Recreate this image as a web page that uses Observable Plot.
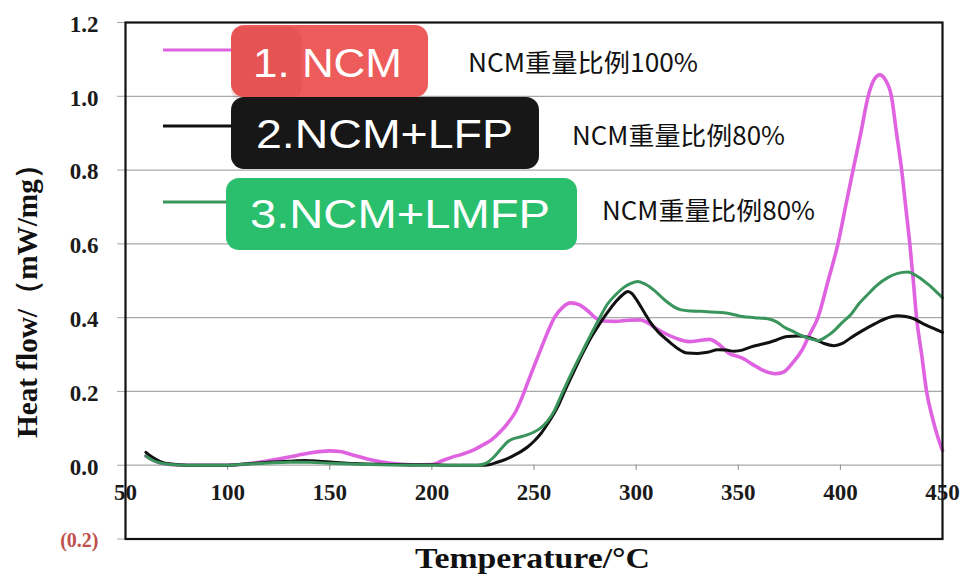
<!DOCTYPE html>
<html><head><meta charset="utf-8">
<script src="https://cdn.jsdelivr.net/npm/d3@7"></script>
<script src="https://cdn.jsdelivr.net/npm/@observablehq/plot@0.6"></script>
<style>
body{margin:0;background:#fff}
#wrap{position:relative;width:976px;height:577px;overflow:hidden}
#overlay{position:absolute;left:0;top:0;pointer-events:none}
</style>
</head><body><div id="wrap"></div>
<script>
// ---- data ----
const xTicks = [50,100,150,200,250,300,350,400,450];
const yTicks = [-0.2,0,0.2,0.4,0.6,0.8,1.0,1.2];

const ncmT = [60,65,70,80,90,100,110,120,130,140,150,155,160,170,180,190,200,205,210,215,220,225,229,233,237,241,244,247,250,253,256.5,260,264,268,272,276,280,284,290,296,302,306,310,315,320,326,331,336,340,345,352,358,363,368,372,377,381,385,389,394,398.8,402.5,406.2,410,413.6,416.5,419.3,422,425,427.5,430,432,434,435.7,437.3,439.8,442.2,445,447.5,450];
const ncmV = [0.025,0.010,0.003,0,0,0,0.004,0.012,0.022,0.033,0.039,0.037,0.030,0.015,0.005,0.001,0.002,0.012,0.022,0.030,0.040,0.055,0.068,0.088,0.113,0.145,0.182,0.225,0.268,0.310,0.358,0.400,0.428,0.440,0.435,0.420,0.400,0.391,0.390,0.393,0.394,0.385,0.370,0.355,0.343,0.335,0.338,0.341,0.330,0.305,0.290,0.270,0.255,0.248,0.252,0.280,0.310,0.355,0.400,0.500,0.600,0.700,0.800,0.900,1.000,1.045,1.058,1.045,1.000,0.900,0.800,0.700,0.600,0.500,0.400,0.300,0.200,0.130,0.080,0.040];

const lfpT = [60,63,67,72,80,90,100,110,120,130,138,145,155,165,180,200,210,220,226,232,237,242,247,250,253.4,257,261.6,265,269.8,274,278,282,286,290,293,296,298,300,302.5,305,307,311,315.5,320,325,330,335,340,344,348,352,356,360,364.5,369,374,379,384,388,392,397,401,405,410,416.8,422,428,432,436,440,445,450];
const lfpV = [0.035,0.022,0.010,0.003,0,0,0,0.004,0.008,0.011,0.013,0.011,0.007,0.004,0.002,0.001,0,0,0,0.008,0.018,0.032,0.050,0.065,0.086,0.115,0.158,0.200,0.257,0.305,0.347,0.382,0.414,0.443,0.460,0.471,0.465,0.450,0.428,0.405,0.387,0.360,0.338,0.318,0.304,0.303,0.306,0.313,0.312,0.309,0.312,0.320,0.326,0.332,0.340,0.349,0.350,0.347,0.340,0.330,0.324,0.330,0.345,0.362,0.383,0.397,0.405,0.403,0.397,0.385,0.372,0.360];

const lmfpT = [60,63,67,72,80,90,100,110,120,130,140,150,160,175,190,210,222,226,230.5,234,237,240,243.6,247,250,253,256.7,260,263,266,269.8,274,278,282,286,290,294,297.5,300.8,304,309,312,315.5,319,322,327,332,337,343,348,352,358,364.5,369,372.6,377,381,385,389,393,397,401,405.4,409,413.6,418,423.4,428,433,438,443,447,450];
const lmfpV = [0.025,0.014,0.006,0.002,0,0,0,0.003,0.006,0.008,0.008,0.005,0.003,0.001,0,0,0,0.004,0.023,0.045,0.063,0.072,0.077,0.083,0.090,0.100,0.120,0.148,0.185,0.222,0.266,0.312,0.356,0.398,0.437,0.462,0.482,0.493,0.498,0.492,0.473,0.458,0.441,0.428,0.421,0.418,0.417,0.415,0.413,0.408,0.403,0.400,0.397,0.388,0.374,0.362,0.351,0.343,0.338,0.348,0.365,0.387,0.410,0.437,0.464,0.488,0.509,0.520,0.524,0.511,0.490,0.470,0.454];

const seriesNames = ["1. NCM","2.NCM+LFP","3.NCM+LMFP"];
const seriesNotes = ["NCM重量比例100%","NCM重量比例80%","NCM重量比例80%"];
const lineColors = ["#df63e0","#111111","#3a955c"];
const boxColors = ["#ee5b5b","#171717","#29bf6d"];

const toRows = (T, V) => T.map((t, i) => ({t, v: V[i]}));
const ncm = toRows(ncmT, ncmV), lfp = toRows(lfpT, lfpV), lmfp = toRows(lmfpT, lmfpV);

const serif = "'Liberation Serif','Times New Roman',serif";
const gridTicks = yTicks.filter(d => d > -0.2 && d < 1.2);

const chart = Plot.plot({
  width: 976, height: 577,
  marginTop: 22, marginBottom: 38.5, marginLeft: 125, marginRight: 34,
  x: {domain: [50, 450], axis: null, label: null},
  y: {domain: [-0.2, 1.2], axis: null, label: null},
  style: {background: "white"},
  marks: [
    Plot.ruleY(gridTicks, {stroke: "#a8a8a8", strokeWidth: 1.3}),
    Plot.axisY({ticks: yTicks, tickSize: 8, stroke: "#a8a8a8", fill: "none", label: null}),
    Plot.ruleX(xTicks.slice(1, -1), {x: d => d, y1: 0, y2: -0.014, stroke: "#888"}),
    Plot.line(ncm, {x: "t", y: "v", stroke: lineColors[0], strokeWidth: 3.6, curve: "monotone-x"}),
    Plot.line(lfp, {x: "t", y: "v", stroke: lineColors[1], strokeWidth: 3, curve: "monotone-x"}),
    Plot.line(lmfp, {x: "t", y: "v", stroke: lineColors[2], strokeWidth: 3, curve: "monotone-x"}),
    Plot.frame({stroke: "#111", strokeWidth: 2.2}),
    Plot.text(yTicks.filter(d => d >= 0), {y: d => d, text: d => d.toFixed(1), frameAnchor: "left", dx: -27, dy: 2, textAnchor: "end", fontFamily: serif, fontWeight: "bold", fontSize: 23, fill: "#1a1a1a"}),
    Plot.text(yTicks.filter(d => d < 0), {y: d => d, text: d => "(" + Math.abs(d).toFixed(1) + ")", frameAnchor: "left", dx: -27, dy: 2, textAnchor: "end", fontFamily: serif, fontWeight: "bold", fontSize: 20, fill: "#c0504d"}),
    Plot.text(xTicks, {x: d => d, y: 0, dy: 27, text: d => String(d), fontFamily: serif, fontWeight: "bold", fontSize: 23, fill: "#1a1a1a"})
  ]
});
const wrap = document.getElementById("wrap");
wrap.appendChild(chart);

// ---- titles & legend overlay ----
const ov = d3.select(wrap).append("svg").attr("id", "overlay").attr("width", 976).attr("height", 577);

ov.append("text").attr("x", 532.5).attr("y", 568).attr("text-anchor", "middle")
  .attr("font-family", serif).attr("font-weight", "bold").attr("font-size", 29)
  .attr("textLength", 235).attr("lengthAdjust", "spacingAndGlyphs").attr("fill", "#111")
  .text("Temperature/°C");
ov.append("text").attr("transform", "translate(37,294) rotate(-90)").attr("text-anchor", "middle")
  .attr("font-family", serif).attr("font-weight", "bold").attr("font-size", 30)
  .attr("textLength", 288).attr("lengthAdjust", "spacingAndGlyphs").attr("fill", "#111")
  .text("Heat flow/（mW/mg）");

const legLineY = [50, 126, 202];
const boxes = [
  {x: 231, y: 25, w: 197, h: 72, tx: 253, ty: 77, tl: 149},
  {x: 231, y: 97, w: 308, h: 72, tx: 256, ty: 148, tl: 257},
  {x: 226, y: 178, w: 351, h: 72, tx: 250, ty: 228, tl: 300}
];
const notes = [
  {x: 468, y: 72, tl: 230},
  {x: 572, y: 145, tl: 213},
  {x: 602, y: 220, tl: 213}
];
legLineY.forEach((y, i) => {
  ov.append("line").attr("x1", 163).attr("x2", 232).attr("y1", y).attr("y2", y)
    .attr("stroke", lineColors[i]).attr("stroke-width", 3);
});
boxes.forEach((b, i) => {
  ov.append("rect").attr("x", b.x).attr("y", b.y).attr("width", b.w).attr("height", b.h)
    .attr("rx", 13).attr("fill", boxColors[i]);
  if (i === 0) {
    ov.append("rect").attr("x", b.x).attr("y", b.y + 2).attr("width", 70).attr("height", b.h + 2)
      .attr("rx", 12).attr("fill", "rgba(170,30,30,0.12)");
  }
  ov.append("text").attr("x", b.tx).attr("y", b.ty)
    .attr("font-family", "'Liberation Sans',Arial,sans-serif").attr("font-size", 40)
    .attr("textLength", b.tl).attr("lengthAdjust", "spacingAndGlyphs").attr("fill", "#fff")
    .text(seriesNames[i]);
});
notes.forEach((n, i) => {
  ov.append("text").attr("x", n.x).attr("y", n.y)
    .attr("font-family", "'Noto Sans CJK SC','Noto Sans',sans-serif").attr("font-size", 25)
    .attr("textLength", n.tl).attr("lengthAdjust", "spacingAndGlyphs").attr("fill", "#111")
    .text(seriesNotes[i]);
});
</script>
</body></html>
